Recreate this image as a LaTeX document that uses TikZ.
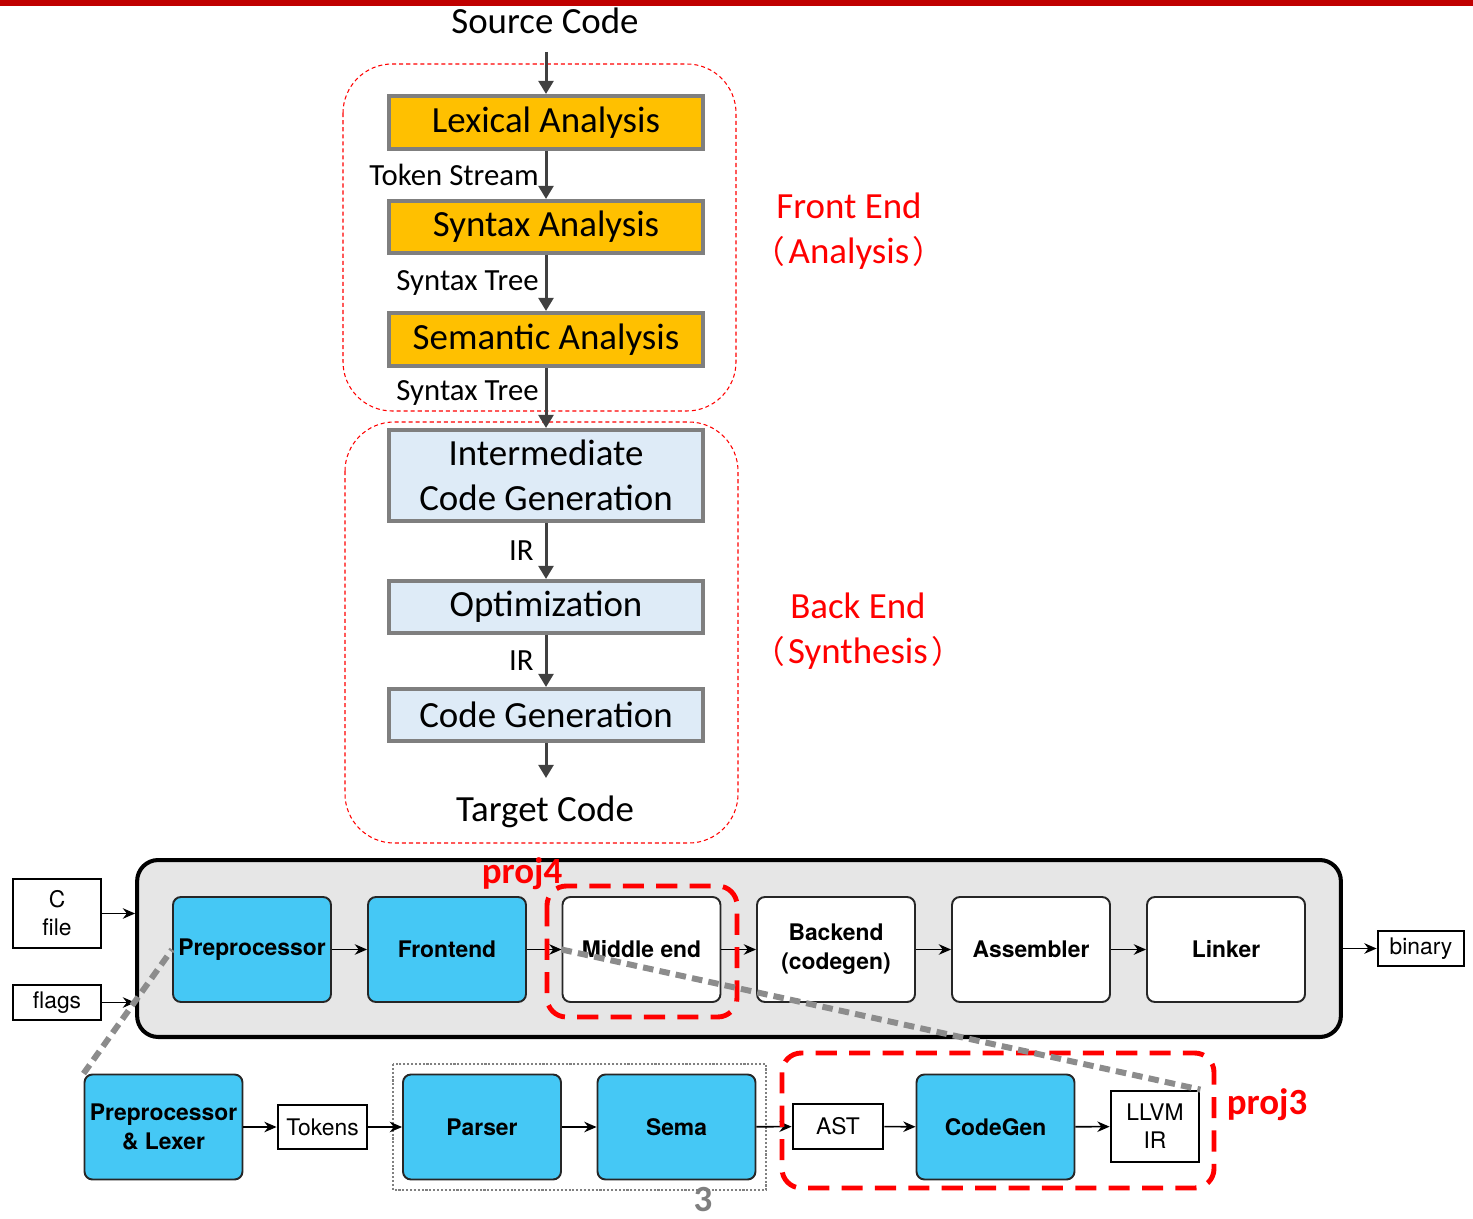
\documentclass[tikz,border=0pt]{standalone}
\usepackage{fontspec}
\setmainfont{Carlito}
\newfontfamily\helv{TeX Gyre Heros}
\newfontfamily\cjk{Noto Sans CJK SC}
\usetikzlibrary{arrows.meta}
\definecolor{lexgold}{HTML}{FFC000}
\definecolor{irblue}{HTML}{DEEBF7}
\definecolor{boxgray}{HTML}{7F7F7F}
\definecolor{flowgray}{HTML}{404040}
\definecolor{clangblue}{RGB}{69,200,245}
\definecolor{panelgray}{HTML}{E6E6E6}
\definecolor{slidered}{HTML}{C00000}
\definecolor{zoomgray}{HTML}{8C8C8C}
\newcommand{\lpar}{{\cjk\fontsize{18}{20}\selectfont（}\kern2pt}
\newcommand{\rpar}{\kern2pt{\cjk\fontsize{18}{20}\selectfont）}}

\begin{document}
\begin{tikzpicture}[x=0.02cm, y=-0.02cm,
  phase/.style={draw=boxgray, line width=2.3pt, minimum width=6.28cm, align=center,
    inner sep=0pt, font=\fontsize{21}{25.5}\selectfont},
  flow/.style={draw=flowgray, line width=1.7pt, -{Triangle[length=7.5pt,width=8.5pt]}},
  flowlabel/.style={left, font=\fontsize{17.5}{20}\selectfont},
  endframe/.style={draw=red, line width=0.6pt, dash pattern=on 2.3pt off 1.7pt, rounded corners=28pt},
  endlabel/.style={text=red, align=center, font=\fontsize{21}{25.5}\selectfont},
  stage/.style={draw=black!85, line width=1.1pt, rounded corners=4.5pt, fill=clangblue,
    minimum width=3.16cm, minimum height=2.1cm, align=center, inner sep=0pt,
    font=\helv\bfseries\fontsize{13}{16.4}\selectfont},
  datbox/.style={draw=black, line width=1.6pt, fill=white, align=center, inner sep=0pt,
    font=\helv\fontsize{13}{16}\selectfont},
  pipe/.style={draw=black, line width=0.9pt, -{Stealth[length=7pt,width=6pt]}},
  projframe/.style={draw=red, line width=2.8pt, dash pattern=on 12pt off 7pt, rounded corners=11pt},
  projlabel/.style={text=red, font=\fontsize{21}{24}\selectfont\bfseries},
  zoomline/.style={draw=zoomgray, line width=3.4pt, dash pattern=on 6pt off 3.5pt}]
\useasboundingbox (0,0) rectangle (1473,1219);
\fill[slidered] (0,0) rectangle (1473,6);

\draw[endframe] (343,64) rectangle (736,411);
\draw[endframe] (345,422) rectangle (738,843);

\node[font=\fontsize{21}{25}\selectfont] (src) at (545,21) {Source Code};
\coordinate (srcout) at (546,52);
\node[phase, fill=lexgold, minimum height=1.06cm] (lex) at (546,122.5) {Lexical Analysis};
\node[phase, fill=lexgold, minimum height=1.04cm] (syn) at (546,227) {Syntax Analysis};
\node[phase, fill=lexgold, minimum height=1.06cm] (sem) at (546,339.5) {Semantic Analysis};
\node[phase, fill=irblue, minimum height=1.82cm] (icg) at (546,475.5) {Intermediate\\Code Generation};
\node[phase, fill=irblue, minimum height=1.04cm] (opt) at (546,607) {Optimization};
\node[phase, fill=irblue, minimum height=1.04cm] (cg) at (546,715) {Code Generation};
\coordinate (tgtin) at (546,778);
\node[font=\fontsize{21}{25}\selectfont] (tgt) at (545,812) {Target Code};

\draw[flow] (srcout) -- (lex);
\draw[flow] (lex) -- node[flowlabel] {Token Stream} (syn);
\draw[flow] (syn) -- node[flowlabel] {Syntax Tree} (sem);
\draw[flow] (sem) -- node[flowlabel, yshift=0.1cm] {Syntax Tree} (icg);
\draw[flow] (icg) -- node[flowlabel, xshift=-0.1cm] {IR} (opt);
\draw[flow] (opt) -- node[flowlabel, xshift=-0.1cm] {IR} (cg);
\draw[flow] (cg) -- (tgtin);

\node[endlabel] (fe) at (849,231) {Front End\\\lpar Analysis\rpar};
\node[endlabel] (be) at (858,631) {Back End\\\lpar Synthesis\rpar};

\node[draw=black, line width=2.3pt, rounded corners=12pt, fill=panelgray,
  minimum width=24.08cm, minimum height=3.54cm] (driver) at (739,948.5) {};
\node[datbox, minimum width=1.76cm, minimum height=1.38cm] (cfile) at (57,913.5) {C\\file};
\node[datbox, minimum width=1.76cm, minimum height=0.7cm] (flags) at (57,1002.5) {flags};
\node[datbox, minimum width=1.72cm, minimum height=0.7cm] (binary) at (1421,948.5) {binary};
\draw[pipe] (cfile.east) -- (cfile.east -| driver.west);
\draw[pipe] (flags.east) -- (flags.east -| driver.west);
\draw[pipe] (driver.east |- binary) -- (binary);

\node[stage] (pre) at (252,949.5) {Preprocessor};
\node[stage] (fro) at (447,949.5) {Frontend};
\node[stage, fill=white] (mid) at (641.5,949.5) {Middle end};
\node[stage, fill=white] (bac) at (836,949.5) {Backend\\(codegen)};
\node[stage, fill=white] (asm) at (1031,949.5) {Assembler};
\node[stage, fill=white] (lnk) at (1226,949.5) {Linker};
\foreach \a/\b in {pre/fro, fro/mid, mid/bac, bac/asm, asm/lnk}{
    \draw[pipe] (\a) -- (\b);
}
\draw[projframe] (547,886) rectangle (737,1017);
\node[projlabel] (p4) at (522,874) {proj4};

\draw[draw=gray, line width=1.2pt, densely dotted] (393,1064) rectangle (766,1190);
\node[stage] (lexer) at (163.5,1127) {Preprocessor\\\& Lexer};
\node[datbox, minimum width=1.78cm, minimum height=0.88cm] (tok) at (322.5,1127) {Tokens};
\node[stage] (par) at (482,1127) {Parser};
\node[stage] (sema) at (676.5,1127) {Sema};
\node[datbox, minimum width=1.8cm, minimum height=0.9cm] (ast) at (838,1126.5) {AST};
\node[stage] (cgen) at (995.5,1127) {CodeGen};
\node[datbox, minimum width=1.76cm, minimum height=1.42cm] (llvm) at (1155,1126.5) {LLVM\\IR};
\foreach \a/\b in {lexer/tok, tok/par, par/sema, sema/ast, ast/cgen, cgen/llvm}{
    \draw[pipe] (\a) -- (\b);
}
\draw[projframe] (782,1053) rectangle (1214,1188);
\node[projlabel] (p3) at (1267,1105) {proj3};

\draw[zoomline] (lexer.north west) -- (pre.west);
\draw[zoomline] (mid.west) -- (llvm.north east);

\node[text=boxgray, font=\fontsize{21}{22}\selectfont\bfseries, inner sep=0pt] (pg) at (703,1200) {3};
\end{tikzpicture}
\end{document}
